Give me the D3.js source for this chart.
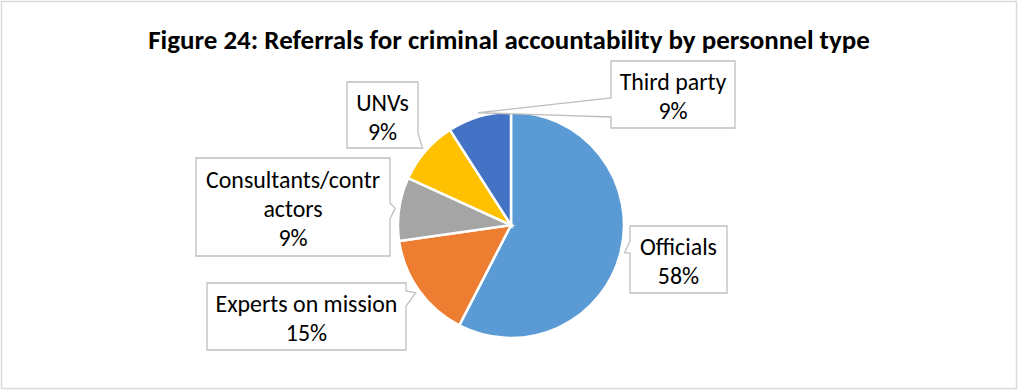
<!DOCTYPE html>
<html>
<head>
<meta charset="utf-8">
<script src="https://cdn.jsdelivr.net/npm/d3@7"></script>
<style>
  body { margin: 0; background: #fff; }
  text { font-family: Calibri, Carlito, Lato, sans-serif; fill: #000; }
</style>
</head>
<body>
<div id="pie"></div>
<script>
// data
var categories = ["Officials", "Experts on mission", "Consultants/contractors", "UNVs", "Third party"];
var counts = [19, 5, 3, 3, 3]; // shares read as 58%, 15%, 9%, 9%, 9%
var labelLines = [["Officials"], ["Experts on mission"], ["Consultants/contr", "actors"], ["UNVs"], ["Third party"]];
var colors = ["#5B9BD5", "#ED7D31", "#A5A5A5", "#FFC000", "#4472C4"];
var title = "Figure 24: Referrals for criminal accountability by personnel type";

// callout box layout (x0, y0, x1, y1, side of pointer, notch start/end)
var boxes = [
  { x0: 630, y0: 226, x1: 727, y1: 293, side: "left", a: 241, b: 253 },
  { x0: 207, y0: 283, x1: 406, y1: 350, side: "right", a: 291, b: 306 },
  { x0: 196, y0: 158, x1: 390, y1: 256, side: "right", a: 203, b: 219 },
  { x0: 347, y0: 82, x1: 418, y1: 148, side: "right", a: 133, b: 148 },
  { x0: 611, y0: 61, x1: 735, y1: 128, side: "left", a: 98, b: 117 }
];

var width = 1018, height = 392;
var cx = 511, cy = 225, radius = 113;

var svg = d3.select("#pie")
  .append("svg")
  .attr("width", width)
  .attr("height", height);

// chart border
svg.append("rect")
  .attr("x", 1.5).attr("y", 1.5)
  .attr("width", width - 3).attr("height", height - 5)
  .attr("fill", "#fff")
  .attr("stroke", "#d9d9d9")
  .attr("stroke-width", 1.5);

// title, sized to its width in the picture
var t = svg.append("text")
  .attr("x", 509).attr("y", 49)
  .attr("text-anchor", "middle")
  .attr("font-weight", "bold")
  .attr("font-size", 20)
  .text(title);
var tw = t.node().getComputedTextLength();
t.attr("font-size", 20 * 722 / tw);

var total = d3.sum(counts);
var pct = d3.format(".0%");

var pie = d3.pie().sort(null).value(function (d) { return d; });
var arcs = pie(counts);

var arc = d3.arc().innerRadius(0).outerRadius(radius);
var tipArc = d3.arc().innerRadius(radius + 4).outerRadius(radius + 4);

var g = svg.append("g").attr("transform", "translate(" + cx + "," + cy + ")");

g.selectAll("path")
  .data(arcs)
  .enter()
  .append("path")
  .attr("d", arc)
  .attr("fill", function (d, i) { return colors[i]; })
  .attr("stroke", "#fff")
  .attr("stroke-width", 2.5);

// callout outline with a wedge pointing at the slice
function callout(bx, tip) {
  var tx = tip[0] + cx, ty = tip[1] + cy;
  if (bx.side == "left") {
    return "M" + bx.x0 + "," + bx.y0 + "H" + bx.x1 + "V" + bx.y1 + "H" + bx.x0 +
      "V" + bx.b + "L" + tx + "," + ty + "L" + bx.x0 + "," + bx.a + "Z";
  }
  return "M" + bx.x0 + "," + bx.y0 + "H" + bx.x1 + "V" + bx.a +
    "L" + tx + "," + ty + "L" + bx.x1 + "," + bx.b + "V" + bx.y1 + "H" + bx.x0 + "Z";
}

var labels = svg.append("g");

// measure label font so "Experts on mission" is about 182px wide
var probe = labels.append("text").attr("font-size", 20).text(labelLines[1][0]);
var fs = 20 * 182 / probe.node().getComputedTextLength();
probe.remove();

arcs.forEach(function (d, i) {
  var bx = boxes[i];
  labels.append("path")
    .attr("d", callout(bx, tipArc.centroid(d)))
    .attr("fill", "#fff")
    .attr("stroke", "#bfbfbf")
    .attr("stroke-width", 1.3);

  var lines = labelLines[i].concat([pct(counts[i] / total)]);
  var mx = (bx.x0 + bx.x1) / 2;
  var my = (bx.y0 + bx.y1) / 2 + 1.5;
  lines.forEach(function (s, j) {
    labels.append("text")
      .attr("x", mx)
      .attr("y", my + (j - (lines.length - 1) / 2) * 29)
      .attr("text-anchor", "middle")
      .attr("dominant-baseline", "central")
      .attr("font-size", fs)
      .text(s);
  });
});
</script>
</body>
</html>
